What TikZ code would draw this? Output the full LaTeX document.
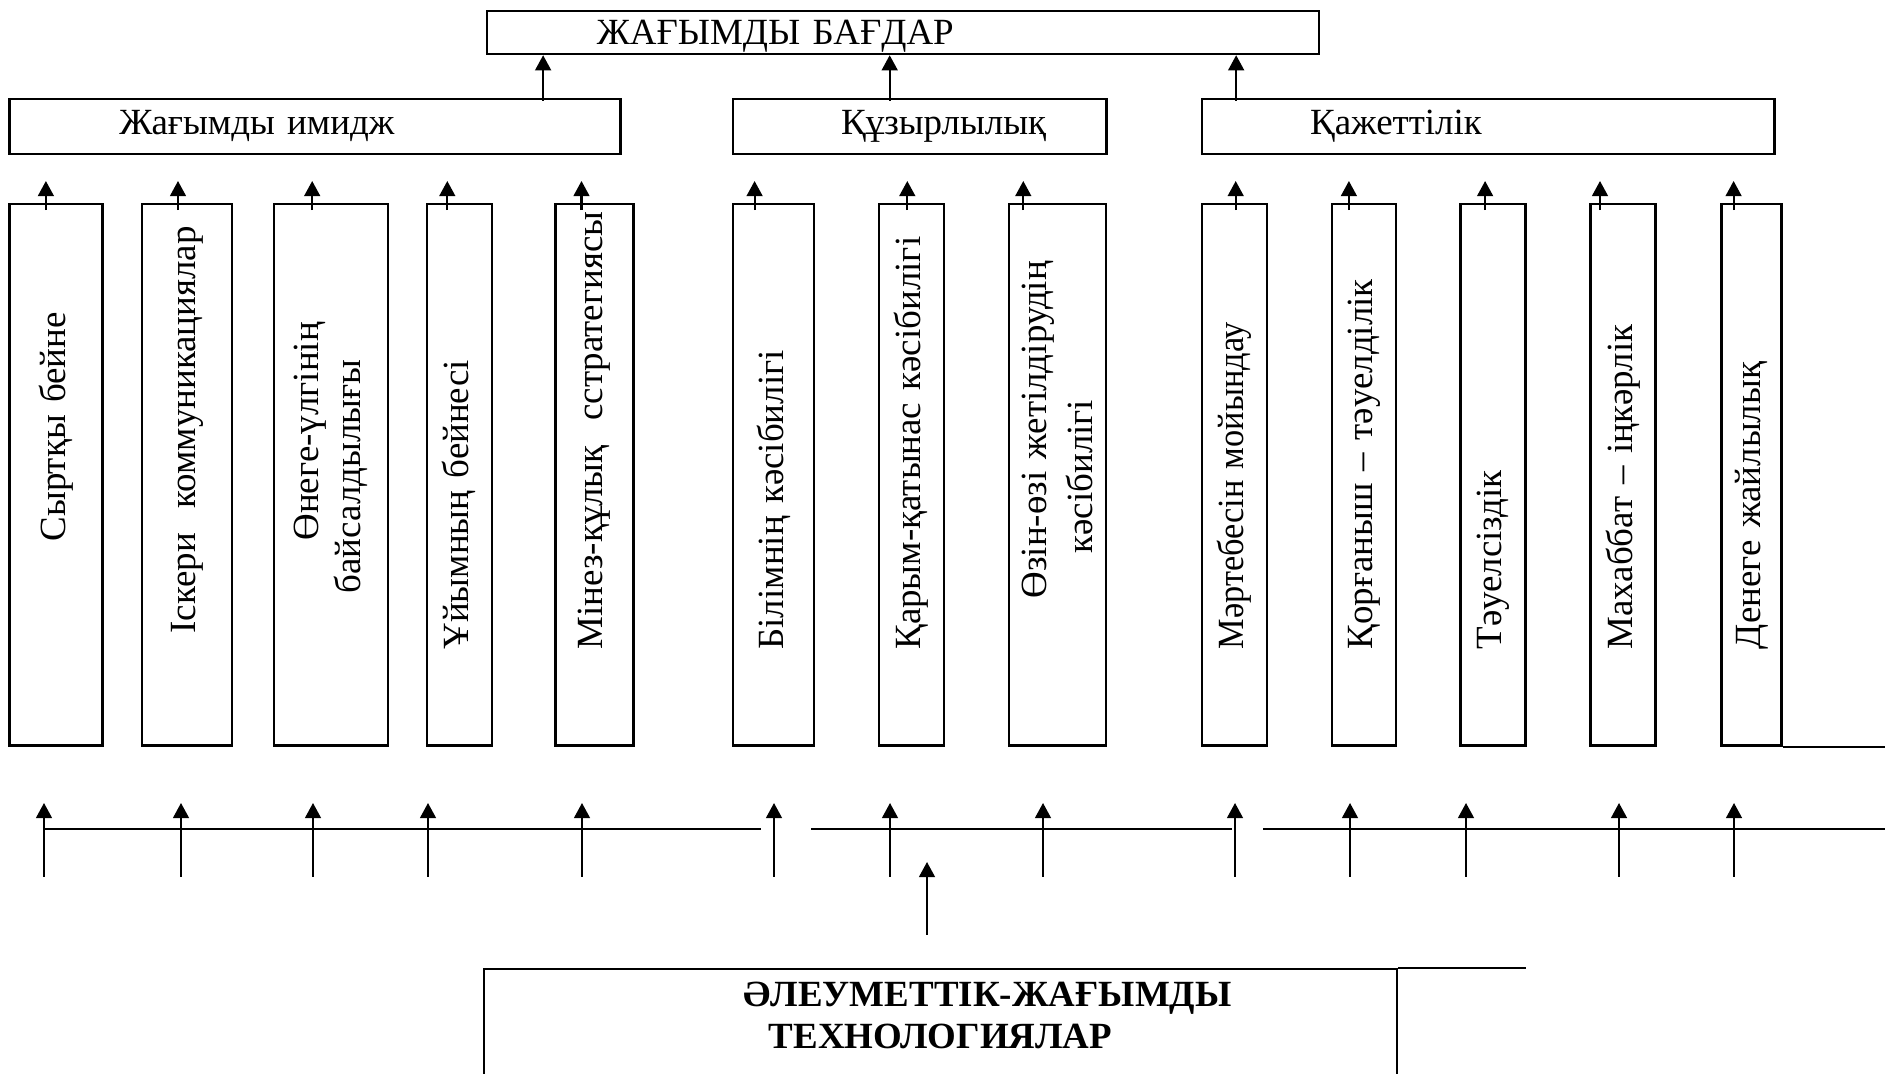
\documentclass[tikz,border=0pt]{standalone}
\usepackage{fontspec}
\setmainfont{Liberation Serif}
\usepackage{tikz}
\usetikzlibrary{arrows.meta}
\newcommand{\boxfont}{\fontsize{10.5}{12}\selectfont}
\tikzstyle{boxline}=[line width=0.7pt]
\tikzstyle{hbox}=[draw, boxline, inner sep=0, minimum height=0.55cm, align=left, font=\boxfont]
\tikzstyle{tallbox}=[draw, boxline, rotate=90, inner sep=0, text width=5.41cm, align=left, font=\boxfont]
\tikzstyle{techbox}=[draw, boxline, anchor=north west, inner xsep=0, inner ysep=0.13cm,
                     text width=9.12cm, text depth=3cm, align=center, font=\boxfont\bfseries]
\tikzstyle{up}=[-{Triangle[length=4.3pt, width=4.5pt]}, line width=0.6pt]
\tikzstyle{rail}=[line width=0.85pt]
\tikzstyle{diagram}=[x=0.01cm, y=-0.01cm,
                     % Page is the reference's pixel grid, y down.
                     execute at begin picture={\useasboundingbox (0,0) rectangle (1885,1074);
                                               \clip (0,0) rectangle (1885,1074);}]
\begin{document}
\begin{tikzpicture}[diagram]
        \node[hbox, text width=8.32cm, minimum height=0.43cm, text depth=0pt] (bagdar) at (903,32.5) {\hspace*{1.1cm}ЖАҒЫМДЫ БАҒДАР};
        \node[hbox, text width=6.11cm] (imidzh) at (315,126.3) {\hspace*{1.1cm}Жағымды имидж};
        \node[hbox, text width=3.73cm] (kuzyr) at (919.7,126.3) {\hspace*{1.08cm}Құзырлылық};
        \node[hbox, text width=5.72cm] (kazhet) at (1488.3,126.3) {\hspace*{1.08cm}Қажеттілік};
        \coordinate (u1) at ([xshift=2.28cm, yshift=-0.03cm]imidzh.north);
        \coordinate (u2) at ([xshift=-0.30cm, yshift=-0.03cm]kuzyr.north);
        \coordinate (u3) at ([xshift=-2.52cm, yshift=-0.03cm]kazhet.north);
        \draw[up] (u1) -- (u1 |- bagdar.south);
        \draw[up] (u2) -- (u2 |- bagdar.south);
        \draw[up] (u3) -- (u3 |- bagdar.south);
        \node[tallbox, minimum height=0.93cm] (b1) at (55.9,474.9) {\hspace*{2.04cm}Сыртқы бейне};
        \node[tallbox, minimum height=0.90cm] (b2) at (187,474.9) {\hspace*{1.12cm}Іскери\ \ коммуникациялар};
        \node[tallbox, minimum height=1.14cm] (b3) at (331.2,474.9) {\hspace*{2.05cm}Өнеге-үлгінің\\\hspace*{1.52cm}байсалдылығы};
        \node[tallbox, minimum height=0.65cm] (b4) at (459.3,474.9) {\hspace*{0.96cm}Ұйымның бейнесі};
        \node[tallbox, minimum height=0.78cm] (b5) at (594.5,474.9) {\hspace*{0.96cm}\mbox{Мінез-құлық\ \ сстратегиясы}};
        \node[tallbox, minimum height=0.81cm] (b6) at (773.6,474.9) {\hspace*{0.96cm}Білімнің кәсібилігі};
        \node[tallbox, minimum height=0.65cm] (b7) at (911.3,474.9) {\hspace*{0.96cm}Қарым-қатынас кәсібилігі};
        \node[tallbox, minimum height=0.97cm] (b8) at (1057.3,474.9) {\hspace*{1.47cm}Өзін-өзі жетілдірудің\\[1pt]\hspace*{1.92cm}кәсібилігі};
        \node[tallbox, minimum height=0.65cm] (b9) at (1234.7,474.9) {\hspace*{0.96cm}\scalebox{0.93}[1]{Мәртебесін мойындау}};
        \node[tallbox, minimum height=0.64cm] (b10) at (1363.9,474.9) {\hspace*{0.96cm}Қорғаныш – тәуелділік};
        \node[tallbox, minimum height=0.65cm] (b11) at (1493.1,474.9) {\hspace*{0.96cm}Тәуелсіздік};
        \node[tallbox, minimum height=0.65cm] (b12) at (1623,474.9) {\hspace*{0.96cm}Махаббат – іңкәрлік};
        \node[tallbox, minimum height=0.60cm] (b13) at (1751.6,474.9) {\hspace*{0.96cm}Денеге жайлылық};
        \draw[up] ([xshift=-0.10cm, yshift=-0.07cm]b1.east) -- +(0,-29);
        \draw[up] ([xshift=-0.09cm, yshift=-0.07cm]b2.east) -- +(0,-29);
        \draw[up] ([xshift=-0.19cm, yshift=-0.07cm]b3.east) -- +(0,-29);
        \draw[up] ([xshift=-0.12cm, yshift=-0.07cm]b4.east) -- +(0,-29);
        \draw[up] ([xshift=-0.13cm, yshift=-0.07cm]b5.east) -- +(0,-29);
        \draw[up] ([xshift=-0.19cm, yshift=-0.07cm]b6.east) -- +(0,-29);
        \draw[up] ([xshift=-0.04cm, yshift=-0.07cm]b7.east) -- +(0,-29);
        \draw[up] ([xshift=-0.34cm, yshift=-0.07cm]b8.east) -- +(0,-29);
        \draw[up] ([xshift=0.01cm, yshift=-0.07cm]b9.east) -- +(0,-29);
        \draw[up] ([xshift=-0.15cm, yshift=-0.07cm]b10.east) -- +(0,-29);
        \draw[up] ([xshift=-0.08cm, yshift=-0.07cm]b11.east) -- +(0,-29);
        \draw[up] ([xshift=-0.23cm, yshift=-0.07cm]b12.east) -- +(0,-29);
        \draw[up] ([xshift=-0.18cm, yshift=-0.07cm]b13.east) -- +(0,-29);
        \draw[boxline] (b13.south west) -- +(110,0);
        % Lower rails with their arrows.
        \draw[rail] (44,829) -- (761,829);
        \draw[rail] (811,829) -- (1232,829);
        \draw[rail] (1263,829) -- (1885,829);
        \draw[up] (44,877) -- (44,803);
        \draw[up] (181,877) -- (181,803);
        \draw[up] (313,877) -- (313,803);
        \draw[up] (428,877) -- (428,803);
        \draw[up] (582,877) -- (582,803);
        \draw[up] (774,877) -- (774,803);
        \draw[up] (890,877) -- (890,803);
        \draw[up] (1043,877) -- (1043,803);
        \draw[up] (1235,877) -- (1235,803);
        \draw[up] (1350,877) -- (1350,803);
        \draw[up] (1466,877) -- (1466,803);
        \draw[up] (1619,877) -- (1619,803);
        \draw[up] (1734,877) -- (1734,803);
        \draw[up] (927,935) -- (927,862);
        \node[techbox] (tech) at (483,968) {\hspace*{0.94cm}ӘЛЕУМЕТТІК-ЖАҒЫМДЫ\\ТЕХНОЛОГИЯЛАР};
        \draw[boxline] (tech.north east) -- +(128,0);
    \end{tikzpicture}
\end{document}
